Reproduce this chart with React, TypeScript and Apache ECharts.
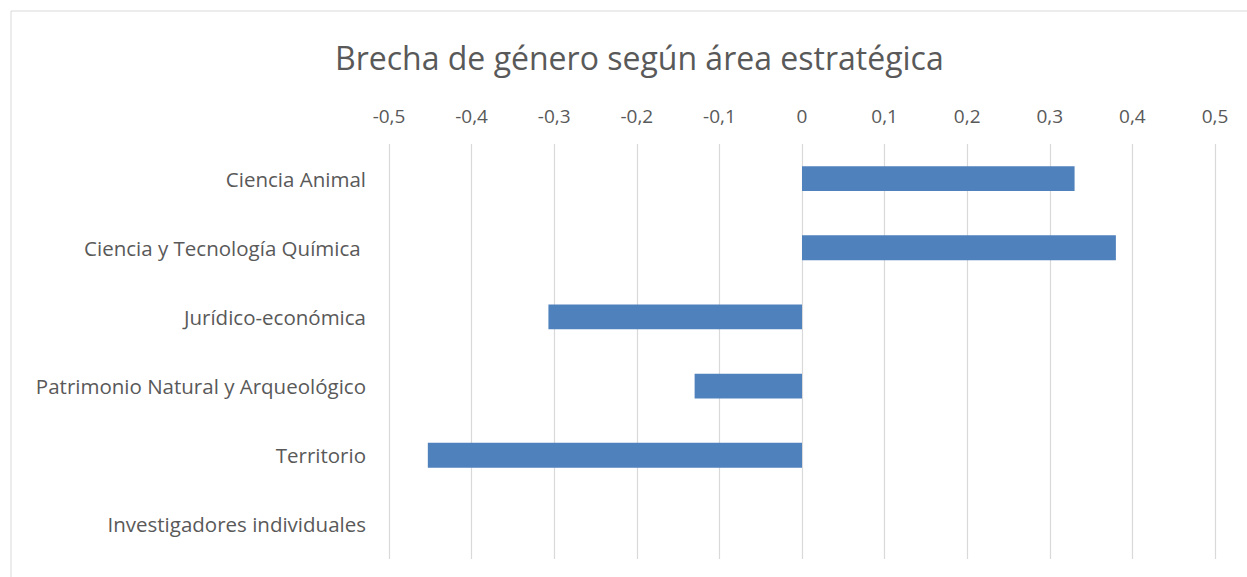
import React, { useEffect, useRef } from "react";
import * as echarts from "echarts";

const titleText = "Brecha de género según área estratégica";
const categories = [
  "Ciencia Animal",
  "Ciencia y Tecnología Química ",
  "Jurídico-económica",
  "Patrimonio Natural y Arqueológico",
  "Territorio",
  "Investigadores individuales",
];
const gapValues = [0.33, 0.38, -0.307, -0.13, -0.453, 0];
const axisMin = -0.5;
const axisMax = 0.5;
const axisStep = 0.1;

export default function App() {
  const ref = useRef<HTMLDivElement>(null);
  useEffect(() => {
    if (!ref.current) return;
    const chart = echarts.init(ref.current, undefined, { renderer: "svg" });
    chart.setOption({
      animation: false,
      backgroundColor: "#ffffff",
      textStyle: { fontFamily: "Open Sans" },
      title: {
        text: titleText,
        left: 330,
        top: 36,
        textStyle: {
          fontFamily: "Open Sans",
          fontSize: 32,
          fontWeight: "normal",
          color: "#595959",
        },
      },
      graphic: [
        {
          type: "rect",
          shape: { x: 11, y: 11, width: 1300, height: 700 },
          style: { fill: "none", stroke: "#d9d9d9", lineWidth: 1 },
          silent: true,
        },
      ],
      grid: { left: 389, right: 32, top: 144, bottom: 18, containLabel: false },
      xAxis: {
        type: "value",
        position: "top",
        min: axisMin,
        max: axisMax,
        interval: axisStep,
        axisLine: { show: false },
        axisTick: { show: false },
        splitLine: { show: true, lineStyle: { color: "#d9d9d9", width: 1.2 } },
        axisLabel: {
          color: "#595959",
          fontSize: 19,
          margin: 19,
          formatter: (v: number) => {
            const r = Math.round(v * 10) / 10;
            return String(r).replace(".", ",");
          },
        },
      },
      yAxis: {
        type: "category",
        data: categories,
        inverse: true,
        axisLine: { show: false },
        axisTick: { show: false },
        axisLabel: { color: "#595959", fontSize: 20.5, margin: 23 },
      },
      series: [
        {
          type: "bar",
          data: gapValues,
          barCategoryGap: "64%",
          itemStyle: { color: "#4f81bd" },
        },
      ],
    });
    return () => chart.dispose();
  }, []);
  return (
    <div
      ref={ref}
      style={{ position: "fixed", left: 0, top: 0, width: 1247, height: 577 }}
    />
  );
}
